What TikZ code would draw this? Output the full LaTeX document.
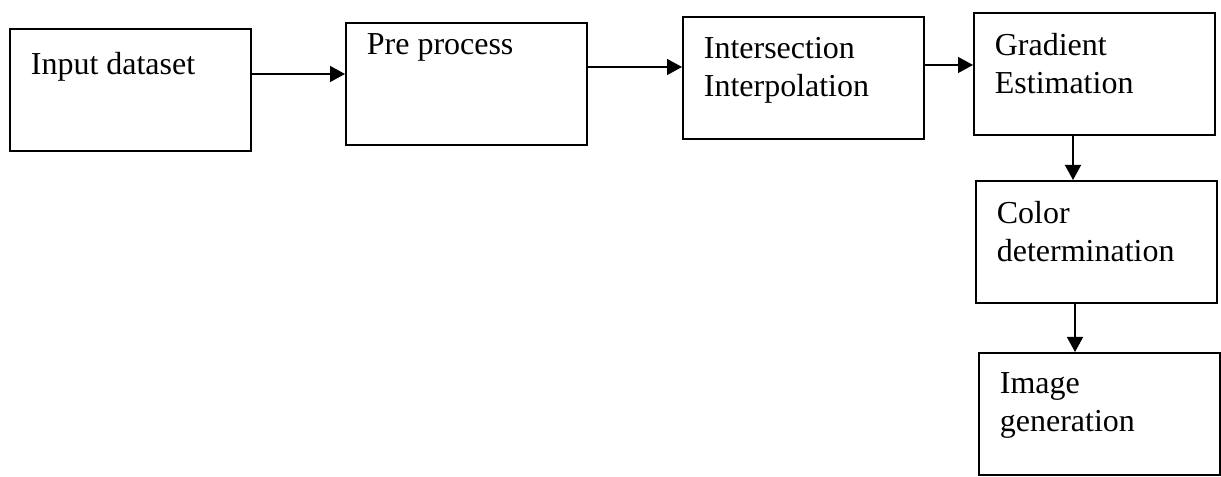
\documentclass[tikz,border=0pt]{standalone}
\usepackage{fontspec}
\setmainfont{Liberation Serif}
\usepackage{tikz}
\usetikzlibrary{arrows.meta}
\definecolor{boxblack}{RGB}{0, 0, 0}
\definecolor{textblack}{RGB}{0, 0, 0}
\newcommand{\stagetext}[1]{\parbox[t][1.65cm][t]{3.98cm}{#1}}

\begin{document}
\begin{tikzpicture}[
        stage/.style={rectangle, draw=boxblack, line width=1pt, anchor=north west, inner xsep=0.42cm, inner ysep=0.4cm, text=textblack, font=\fontsize{18.2}{21.6}\selectfont},
        flow/.style={-{Triangle[length=0.3cm, width=0.32cm]}, line width=0.8pt, color=boxblack}
    ]
    \useasboundingbox (0,0) rectangle (24.42,-9.54);

    % Top row
    \node[stage, inner ysep=0.46cm] (input) at (0.18,-0.56) {\parbox[t][1.53cm][t]{3.98cm}{Input dataset}};
    \node[stage, inner ysep=0.22cm] (preproc) at (6.9,-0.44) {\parbox[t][2.01cm][t]{3.98cm}{Pre process}};
    \node[stage] (interp) at (13.64,-0.32) {\stagetext{Intersection\\ Interpolation}};
    \node[stage] (gradient) at (19.46,-0.24) {\stagetext{Gradient\\ Estimation}};

    % Right column
    \node[stage] (color) at (19.5,-3.6) {\stagetext{Color\\ determination}};
    \node[stage] (image) at (19.56,-7.04) {\stagetext{Image\\ generation}};

    % Flows
    \draw[flow] (input.east |- 0,-1.48) -- (preproc.west |- 0,-1.48);
    \draw[flow] (preproc.east |- 0,-1.34) -- (interp.west |- 0,-1.34);
    \draw[flow] (interp.east |- 0,-1.30) -- (gradient.west |- 0,-1.30);
    \draw[flow] (gradient.south -| 21.46,0) -- (color.north -| 21.46,0);
    \draw[flow] (color.south -| 21.5,0) -- (image.north -| 21.5,0);

    \end{tikzpicture}
\end{document}
